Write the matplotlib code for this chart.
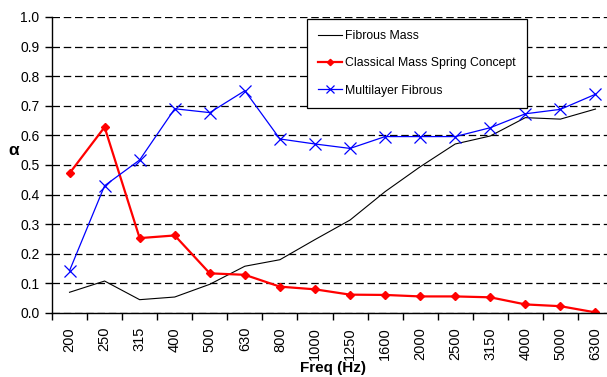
import matplotlib.pyplot as plt
import numpy as np

plt.rcParams['font.family'] = ['Liberation Sans', 'DejaVu Sans']

freqs = ['200', '250', '315', '400', '500', '630', '800', '1000', '1250',
         '1600', '2000', '2500', '3150', '4000', '5000', '6300']

fibrous_mass = [0.070, 0.108, 0.045, 0.054, 0.097, 0.158, 0.180, 0.248, 0.314,
                0.410, 0.494, 0.571, 0.598, 0.660, 0.655, 0.689]
mass_spring = [0.472, 0.628, 0.253, 0.262, 0.134, 0.129, 0.089, 0.080, 0.062,
               0.061, 0.056, 0.056, 0.053, 0.029, 0.023, 0.002]
multilayer = [0.143, 0.430, 0.517, 0.690, 0.677, 0.751, 0.588, 0.571, 0.556,
              0.596, 0.596, 0.596, 0.626, 0.673, 0.688, 0.739]

W, H = 607, 377
fig = plt.figure(figsize=(W / 100, H / 100), dpi=100)
# plot area runs a little past the right edge of the figure
ax = fig.add_axes([52 / W, 64 / H, 561 / W, 296 / H])

x = np.arange(len(freqs))
l1, = ax.plot(x, fibrous_mass, color='black', lw=0.8, label='Fibrous Mass')
l2, = ax.plot(x, mass_spring, color='#ff0000', lw=1.6, marker='D', ms=4,
              label='Classical Mass Spring Concept')
l3, = ax.plot(x, multilayer, color='#0000ff', lw=0.9, marker='x', ms=8,
              mew=0.9, label='Multilayer Fibrous')

ax.set_xlim(-0.5, len(freqs) - 0.5)
ax.set_ylim(0, 1.0)
ax.set_yticks(np.arange(0, 1.01, 0.1))
ax.set_yticklabels([f'{v:.1f}' for v in np.arange(0, 1.01, 0.1)], fontsize=10)
ax.yaxis.grid(True, color='black', ls=(0, (6, 3)), lw=0.9)
ax.set_axisbelow(True)

ax.set_xticks(x)
ax.set_xticklabels(freqs, rotation=90, fontsize=10.5)
ax.set_xticks(np.arange(-0.5, len(freqs), 1), minor=True)
ax.tick_params(axis='x', which='major', length=0, pad=10)
ax.tick_params(axis='x', which='minor', length=5, width=1, direction='out')
ax.tick_params(axis='y', length=5, width=1, direction='out', pad=4)

for s in ['top', 'right']:
    ax.spines[s].set_visible(False)
for s in ['left', 'bottom']:
    ax.spines[s].set_linewidth(1.0)

ax.set_xlabel('Freq (Hz)', fontsize=11, fontweight='bold', labelpad=1)
ax.set_ylabel('α', fontsize=12.5, fontweight='bold', rotation=0, va='center')
ax.yaxis.set_label_coords(-0.068, 0.548)

leg = ax.legend(handles=[l1, l2, l3], loc='upper left',
                bbox_to_anchor=(307 / W, 1 - 19 / H), bbox_transform=fig.transFigure,
                fontsize=8.8, frameon=True, fancybox=False, edgecolor='black',
                framealpha=1, labelspacing=1.25, handlelength=2.0,
                handletextpad=0.2, borderpad=0.9, borderaxespad=0,
                markerscale=0.8)
leg.get_frame().set_linewidth(0.9)

fig.savefig('out.png', dpi=100)
